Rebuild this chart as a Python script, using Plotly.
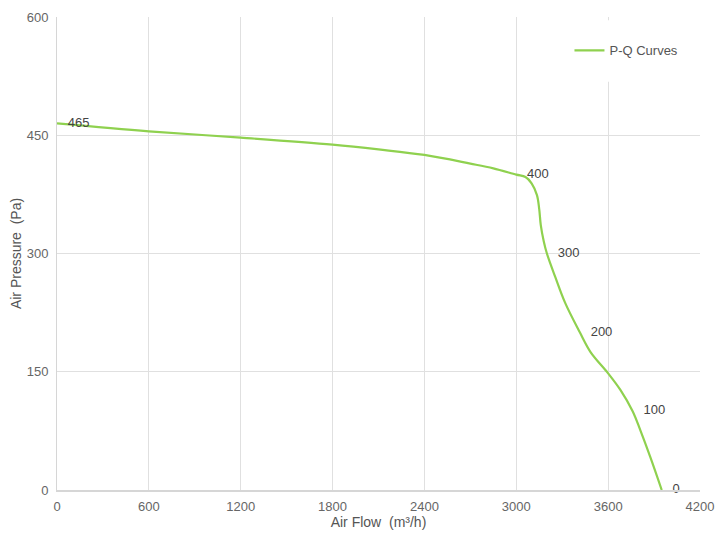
import plotly.graph_objects as go

# points
air_flow = [0, 600, 1200, 1800, 2100, 2400, 2700, 2850, 3000, 3060, 3100, 3135,
            3150, 3160, 3180, 3200, 3255, 3320, 3415, 3485, 3600, 3680, 3760,
            3810, 3875, 3950]
air_pressure = [465, 455, 447, 438, 432, 425, 414, 408, 400, 397, 389, 374,
                356, 336, 315, 300, 270, 237, 200, 175, 148, 127, 100,
                76, 42, 0]
point_labels = ["465", "", "", "", "", "", "", "", "400", "", "", "",
                "", "", "", "300", "", "", "200", "", "", "", "100",
                "", "", "0"]

x_ticks = [0, 600, 1200, 1800, 2400, 3000, 3600, 4200]
y_ticks = [0, 150, 300, 450, 600]

GREEN = "#8fd14f"
GRID = "#e0e0e0"
FONT = "Liberation Sans, Arial, sans-serif"

# pad labels so they sit a little to the right of their point, like the original
shown_labels = ["   " + s if s else "" for s in point_labels]

fig = go.Figure()
fig.add_trace(go.Scatter(
    x=air_flow,
    y=air_pressure,
    mode="lines+text",
    name="P-Q Curves",
    text=shown_labels,
    textposition="middle right",
    textfont=dict(size=13, color="#444444", family=FONT),
    line=dict(color=GREEN, width=2.2, shape="spline", smoothing=1.0),
    cliponaxis=False,
))

# the page body adds an 8px margin, so the figure is 8px smaller on each side
fig.update_layout(
    width=716,
    height=534,
    margin=dict(l=49, r=24, t=9, b=52, autoexpand=False),
    plot_bgcolor="white",
    paper_bgcolor="white",
    font=dict(family=FONT, size=13, color="#666666"),
    showlegend=True,
    legend=dict(
        x=0.797, y=0.961, xanchor="left", yanchor="top",
        bgcolor="white", borderwidth=0,
        font=dict(size=13, color="#555555"),
    ),
    shapes=[dict(type="rect", xref="paper", yref="paper",
                 x0=0.78, x1=0.99, y0=0.863, y1=0.993,
                 fillcolor="white", line=dict(width=0), layer="above")],
)

fig.update_xaxes(
    range=[0, 4200],
    tickvals=x_ticks,
    automargin=False,
    showgrid=True, gridcolor=GRID, gridwidth=1,
    zeroline=False,
    showline=True, linecolor="#d6d6d6", linewidth=1.5,
    ticks="", ticklabelstandoff=4,
    title=dict(text="Air Flow  (m³/h)", font=dict(size=14, color="#555555"), standoff=3),
)
fig.update_yaxes(
    range=[0, 600],
    tickvals=y_ticks,
    automargin=False,
    showgrid=True, gridcolor=GRID, gridwidth=1,
    zeroline=False,
    showline=True, linecolor="#d6d6d6", linewidth=1,
    ticks="", ticklabelstandoff=5,
    title=dict(text="Air Pressure  (Pa)", font=dict(size=14, color="#555555"), standoff=1),
)

fig.write_html("out.html")
